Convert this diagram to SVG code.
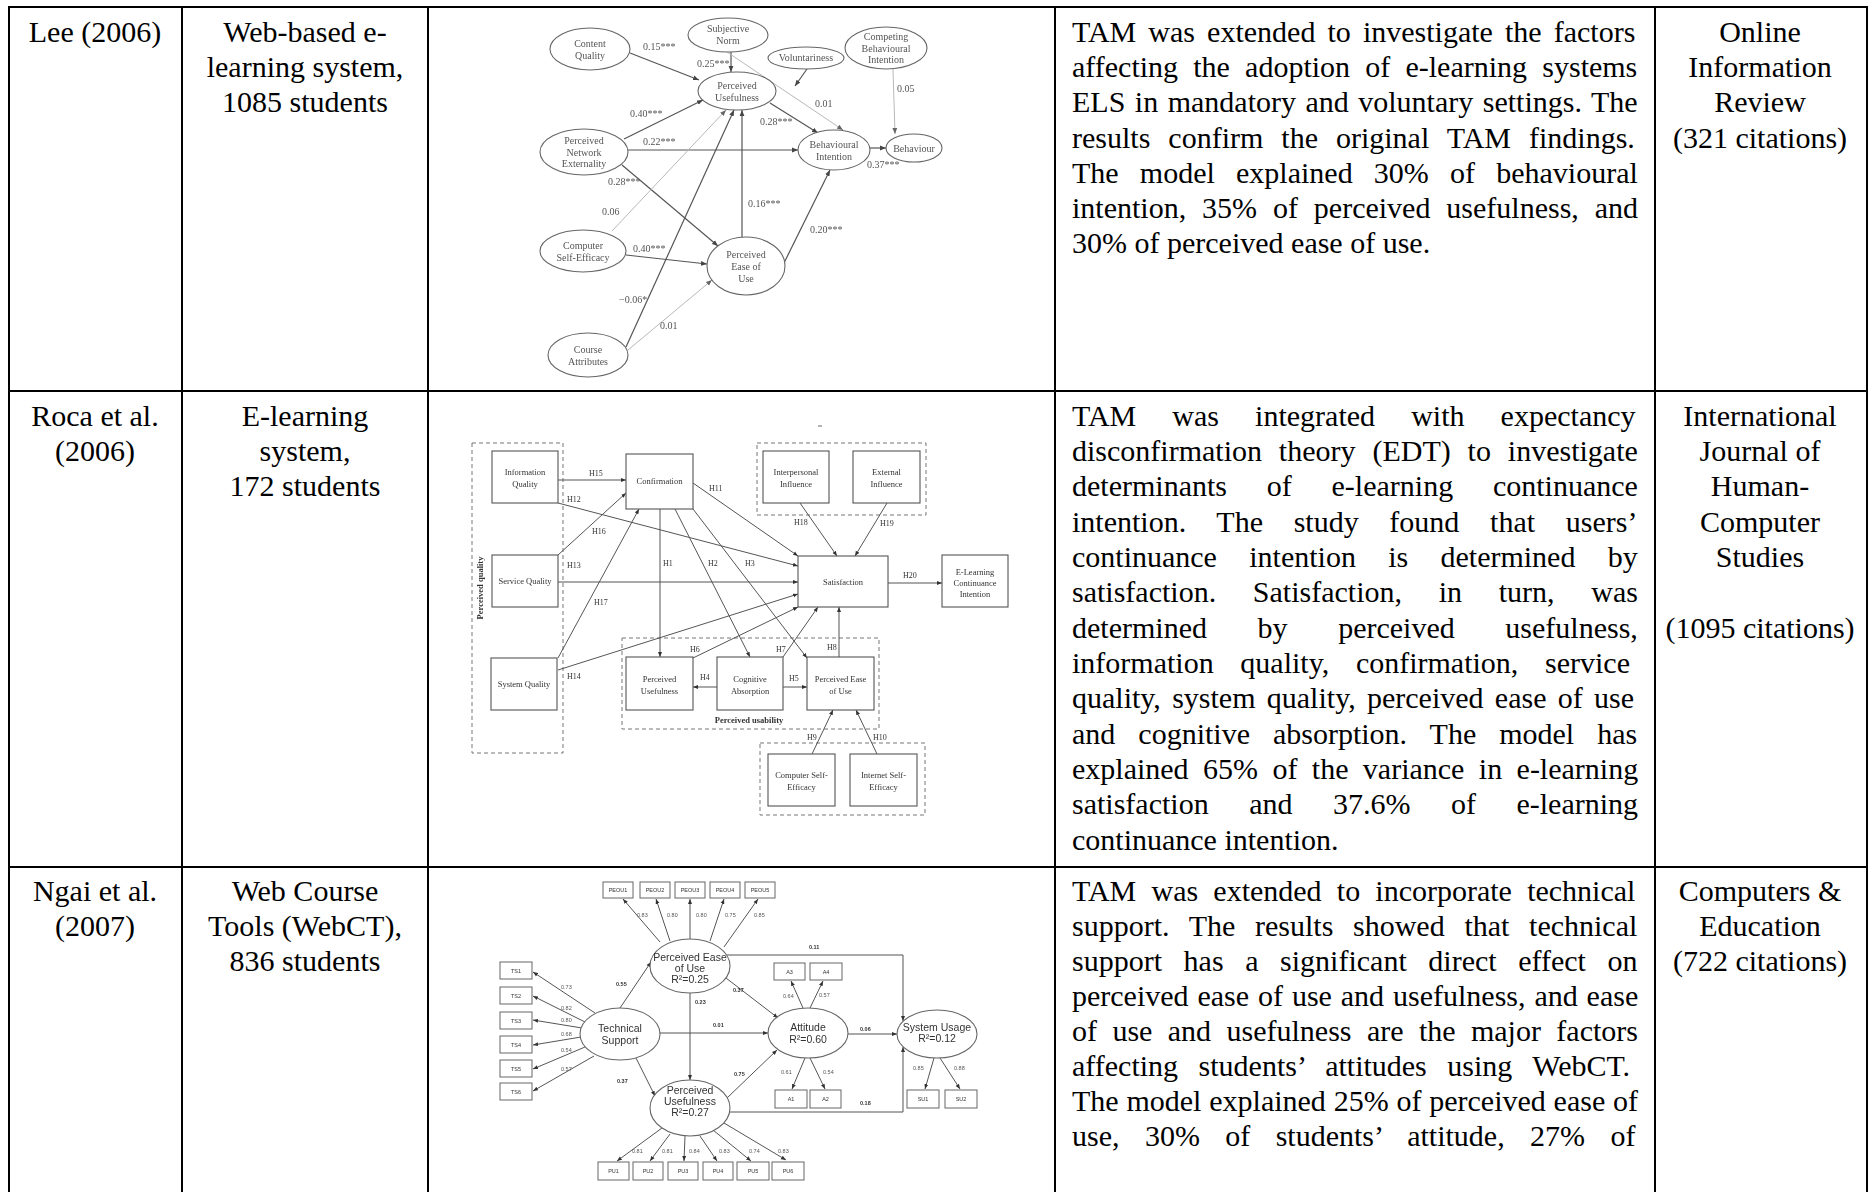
<svg xmlns="http://www.w3.org/2000/svg" width="1868" height="1192" viewBox="0 0 1868 1192">
<style>
  .cell { font-family: "Liberation Serif", "Times New Roman", serif; font-size: 30px; fill: #000; }
  .mid { text-anchor: middle; }
  .grid line { stroke: #000; stroke-width: 2; }
  .lee ellipse { fill: #fff; stroke: #666; stroke-width: 1.1; }
  .lee text { font-family: "Liberation Serif", "Times New Roman", serif; font-size: 10px; fill: #555; text-anchor: middle; }
  .lee .lbl { text-anchor: start; }
  .lee-edge { fill: none; stroke: #555; stroke-width: 1.2; marker-end: url(#ahLee); }
  .lee-edge.light { stroke: #b8b8b8; stroke-width: 1; marker-end: url(#ahLeeLight); }
  .roca rect { fill: #fff; stroke: #555; stroke-width: 1.1; }
  .roca .grp { fill: none; stroke: #777; stroke-width: 1; stroke-dasharray: 4 3; }
  .roca text { font-family: "Liberation Serif", "Times New Roman", serif; font-size: 8.5px; fill: #333; text-anchor: middle; }
  .roca .lbl { text-anchor: start; font-size: 8px; }
  .roca .bold { font-weight: bold; }
  .roca-edge { fill: none; stroke: #555; stroke-width: 1; marker-end: url(#ahRoca); }
  .ngai rect { fill: #fff; stroke: #666; stroke-width: 1; }
  .ngai ellipse { fill: #fff; stroke: #666; stroke-width: 1.1; }
  .ngai text { font-family: "Liberation Sans", Arial, sans-serif; fill: #333; text-anchor: middle; }
  .ngai .big { font-size: 10.5px; }
  .ngai .tiny { font-size: 5.5px; }
  .ngai .lbl { font-size: 5.5px; text-anchor: start; fill: #555; }
  .ngai .lbl.b { font-weight: bold; fill: #333; }
  .ngai-edge { fill: none; stroke: #555; stroke-width: 1; marker-end: url(#ahNgai); }
</style>
<defs>
  <marker id="ahLee" viewBox="0 0 10 10" refX="10" refY="5" markerWidth="6" markerHeight="6" markerUnits="userSpaceOnUse" orient="auto"><path d="M0,1 L10,5 L0,9 z" fill="#444"/></marker>
  <marker id="ahLeeLight" viewBox="0 0 10 10" refX="10" refY="5" markerWidth="6" markerHeight="6" markerUnits="userSpaceOnUse" orient="auto"><path d="M0,1 L10,5 L0,9 z" fill="#666"/></marker>
  <marker id="ahRoca" viewBox="0 0 10 10" refX="10" refY="5" markerWidth="5" markerHeight="5" markerUnits="userSpaceOnUse" orient="auto"><path d="M0,1 L10,5 L0,9 z" fill="#333"/></marker>
  <marker id="ahNgai" viewBox="0 0 10 10" refX="10" refY="5" markerWidth="5" markerHeight="5" markerUnits="userSpaceOnUse" orient="auto"><path d="M0,1 L10,5 L0,9 z" fill="#333"/></marker>
  <filter id="soft" x="-2%" y="-2%" width="104%" height="104%"><feGaussianBlur stdDeviation="0.45"/></filter>
</defs>
<rect width="1868" height="1192" fill="#fff"/>

<!-- table rules -->
<g class="grid">
  <line x1="8" y1="7" x2="1868" y2="7"/>
  <line x1="8" y1="391" x2="1868" y2="391"/>
  <line x1="8" y1="867" x2="1868" y2="867"/>
  <line x1="9" y1="6" x2="9" y2="1192"/>
  <line x1="182" y1="6" x2="182" y2="1192"/>
  <line x1="428" y1="6" x2="428" y2="1192"/>
  <line x1="1055" y1="6" x2="1055" y2="1192"/>
  <line x1="1655" y1="6" x2="1655" y2="1192"/>
  <line x1="1867" y1="6" x2="1867" y2="1192"/>
</g>

<!-- row 1: Lee (2006) -->
<g id="row-lee" class="cell">
  <text class="mid" x="95" y="42">Lee (2006)</text>
  <text class="mid" x="305" y="42">Web-based e-</text>
  <text class="mid" x="305" y="77">learning system,</text>
  <text class="mid" x="305" y="112">1085 students</text>
  <text x="1072" y="42" word-spacing="4.6">TAM was extended to investigate the factors</text>
  <text x="1072" y="77" word-spacing="7.7">affecting the adoption of e-learning systems</text>
  <text x="1072" y="112" word-spacing="2">ELS in mandatory and voluntary settings. The</text>
  <text x="1072" y="148" word-spacing="10.5">results confirm the original TAM findings.</text>
  <text x="1072" y="183" word-spacing="13.7">The model explained 30% of behavioural</text>
  <text x="1072" y="218" word-spacing="8.4">intention, 35% of perceived usefulness, and</text>
  <text x="1072" y="253">30% of perceived ease of use.</text>
  <text class="mid" x="1760" y="42">Online</text>
  <text class="mid" x="1760" y="77">Information</text>
  <text class="mid" x="1760" y="112">Review</text>
  <text class="mid" x="1760" y="148">(321 citations)</text>
</g>

<!-- row 2: Roca et al. (2006) -->
<g id="row-roca" class="cell">
  <text class="mid" x="95" y="426">Roca et al.</text>
  <text class="mid" x="95" y="461">(2006)</text>
  <text class="mid" x="305" y="426">E-learning</text>
  <text class="mid" x="305" y="461">system,</text>
  <text class="mid" x="305" y="496">172 students</text>
  <text x="1072" y="426" word-spacing="28.6">TAM was integrated with expectancy</text>
  <text x="1072" y="461" word-spacing="9.4">disconfirmation theory (EDT) to investigate</text>
  <text x="1072" y="496" word-spacing="32.3">determinants of e-learning continuance</text>
  <text x="1072" y="532" word-spacing="23.2">intention. The study found that users’</text>
  <text x="1072" y="567" word-spacing="24.8">continuance intention is determined by</text>
  <text x="1072" y="602" word-spacing="29.2">satisfaction. Satisfaction, in turn, was</text>
  <text x="1072" y="638" word-spacing="43.1">determined by perceived usefulness,</text>
  <text x="1072" y="673" word-spacing="19.2">information quality, confirmation, service</text>
  <text x="1072" y="708" word-spacing="3.8">quality, system quality, perceived ease of use</text>
  <text x="1072" y="744" word-spacing="15.5">and cognitive absorption. The model has</text>
  <text x="1072" y="779" word-spacing="6.9">explained 65% of the variance in e-learning</text>
  <text x="1072" y="814" word-spacing="33">satisfaction and 37.6% of e-learning</text>
  <text x="1072" y="850">continuance intention.</text>
  <text class="mid" x="1760" y="426">International</text>
  <text class="mid" x="1760" y="461">Journal of</text>
  <text class="mid" x="1760" y="496">Human-</text>
  <text class="mid" x="1760" y="532">Computer</text>
  <text class="mid" x="1760" y="567">Studies</text>
  <text class="mid" x="1760" y="638">(1095 citations)</text>
</g>

<!-- row 3: Ngai et al. (2007) -->
<g id="row-ngai" class="cell">
  <text class="mid" x="95" y="901">Ngai et al.</text>
  <text class="mid" x="95" y="936">(2007)</text>
  <text class="mid" x="305" y="901">Web Course</text>
  <text class="mid" x="305" y="936">Tools (WebCT),</text>
  <text class="mid" x="305" y="971">836 students</text>
  <text x="1072" y="901" word-spacing="7.7">TAM was extended to incorporate technical</text>
  <text x="1072" y="936" word-spacing="12.2">support. The results showed that technical</text>
  <text x="1072" y="971" word-spacing="14.1">support has a significant direct effect on</text>
  <text x="1072" y="1006" word-spacing="1.4">perceived ease of use and usefulness, and ease</text>
  <text x="1072" y="1041" word-spacing="7.9">of use and usefulness are the major factors</text>
  <text x="1072" y="1076" word-spacing="13">affecting students’ attitudes using WebCT.</text>
  <text x="1072" y="1111" word-spacing="0.3">The model explained 25% of perceived ease of</text>
  <text x="1072" y="1146" word-spacing="17.9">use, 30% of students’ attitude, 27% of</text>
  <text class="mid" x="1760" y="901">Computers &amp;</text>
  <text class="mid" x="1760" y="936">Education</text>
  <text class="mid" x="1760" y="971">(722 citations)</text>
</g>

<!-- Lee (2006) research model -->
<g id="lee-model" class="lee" filter="url(#soft)">
  <g id="lee-connectors">
    <path class="lee-edge" d="M630,53 L699,80"/>
    <path class="lee-edge" d="M731,52 L731,72"/>
    <path class="lee-edge light" d="M727,52 L843,130"/>
    <path class="lee-edge" d="M807,69 L795,86"/>
    <path class="lee-edge light" d="M893,69 L895,134"/>
    <path class="lee-edge" d="M770,103 L818,133"/>
    <path class="lee-edge" d="M624,139 L703,100"/>
    <path class="lee-edge" d="M628,150 L798,150"/>
    <path class="lee-edge" d="M622,165 L718,246"/>
    <path class="lee-edge light" d="M612,231 L726,110"/>
    <path class="lee-edge" d="M626,347 L734,110"/>
    <path class="lee-edge" d="M742,237 L742,110"/>
    <path class="lee-edge" d="M784,263 L830,170"/>
    <path class="lee-edge" d="M626,255 L707,264"/>
    <path class="lee-edge light" d="M628,350 L712,280"/>
    <path class="lee-edge" d="M870,148 L886,148"/>
    <text class="lbl" x="643" y="50">0.15***</text>
    <text class="lbl" x="697" y="67">0.25***</text>
    <text class="lbl" x="815" y="107">0.01</text>
    <text class="lbl" x="897" y="92">0.05</text>
    <text class="lbl" x="630" y="117">0.40***</text>
    <text class="lbl" x="760" y="125">0.28***</text>
    <text class="lbl" x="643" y="145">0.22***</text>
    <text class="lbl" x="867" y="168">0.37***</text>
    <text class="lbl" x="608" y="185">0.28***</text>
    <text class="lbl" x="602" y="215">0.06</text>
    <text class="lbl" x="748" y="207">0.16***</text>
    <text class="lbl" x="810" y="233">0.20***</text>
    <text class="lbl" x="633" y="252">0.40***</text>
    <text class="lbl" x="619" y="303">−0.06*</text>
    <text class="lbl" x="660" y="329">0.01</text>
  </g>
  <g id="lee-content-quality"><ellipse cx="590" cy="49" rx="40" ry="21"/><text x="590" y="47">Content</text><text x="590" y="59">Quality</text></g>
  <g id="lee-subjective-norm"><ellipse cx="728" cy="35" rx="40" ry="17"/><text x="728" y="32">Subjective</text><text x="728" y="44">Norm</text></g>
  <g id="lee-voluntariness"><ellipse cx="806" cy="58" rx="38" ry="11"/><text x="806" y="61">Voluntariness</text></g>
  <g id="lee-competing-intention"><ellipse cx="886" cy="48" rx="41" ry="21"/><text x="886" y="40">Competing</text><text x="886" y="51.5">Behavioural</text><text x="886" y="63">Intention</text></g>
  <g id="lee-usefulness"><ellipse cx="737" cy="91" rx="39" ry="19"/><text x="737" y="89">Perceived</text><text x="737" y="101">Usefulness</text></g>
  <g id="lee-network-externality"><ellipse cx="584" cy="152" rx="44" ry="23"/><text x="584" y="144">Perceived</text><text x="584" y="155.5">Network</text><text x="584" y="167">Externality</text></g>
  <g id="lee-behavioural-intention"><ellipse cx="834" cy="150" rx="36" ry="20"/><text x="834" y="148">Behavioural</text><text x="834" y="160">Intention</text></g>
  <g id="lee-behaviour"><ellipse cx="914" cy="148" rx="28" ry="14"/><text x="914" y="151.5">Behaviour</text></g>
  <g id="lee-computer-self-efficacy"><ellipse cx="583" cy="251" rx="43" ry="21"/><text x="583" y="248.5">Computer</text><text x="583" y="260.5">Self-Efficacy</text></g>
  <g id="lee-ease-of-use"><ellipse cx="746" cy="266" rx="39" ry="29"/><text x="746" y="257.5">Perceived</text><text x="746" y="269.5">Ease of</text><text x="746" y="281.5">Use</text></g>
  <g id="lee-course-attributes"><ellipse cx="588" cy="355" rx="40" ry="22"/><text x="588" y="352.5">Course</text><text x="588" y="364.5">Attributes</text></g>
</g>

<!-- Roca et al. (2006) research model -->
<g id="roca-model" class="roca" filter="url(#soft)">
  <g id="roca-groups">
    <rect class="grp" x="472" y="443" width="91" height="310"/>
    <text class="bold" transform="translate(483,588) rotate(-90)">Perceived   quality</text>
    <rect class="grp" x="757" y="443" width="169" height="72"/>
    <rect class="grp" x="622" y="638" width="257" height="91"/>
    <text class="bold" x="749" y="723">Perceived usability</text>
    <rect class="grp" x="760" y="743" width="165" height="72"/>
    <line x1="818" y1="426" x2="822" y2="426" stroke="#666" stroke-width="1"/>
  </g>
  <g id="roca-connectors">
    <path class="roca-edge" d="M558,480 L626,480"/>
    <path class="roca-edge" d="M558,503 L798,566"/>
    <path class="roca-edge" d="M558,555 L626,493"/>
    <path class="roca-edge" d="M558,582 L798,582"/>
    <path class="roca-edge" d="M558,658 L639,509"/>
    <path class="roca-edge" d="M558,670 L798,594"/>
    <path class="roca-edge" d="M693,483 L798,556"/>
    <path class="roca-edge" d="M660,509 L660,657"/>
    <path class="roca-edge" d="M675,509 L750,657"/>
    <path class="roca-edge" d="M693,509 L807,658"/>
    <path class="roca-edge" d="M693,658 L798,607"/>
    <path class="roca-edge" d="M783,657 L818,607"/>
    <path class="roca-edge" d="M839,657 L839,607"/>
    <path class="roca-edge" d="M717,687 L693,687"/>
    <path class="roca-edge" d="M783,687 L807,687"/>
    <path class="roca-edge" d="M812,754 L833,710"/>
    <path class="roca-edge" d="M877,754 L856,710"/>
    <path class="roca-edge" d="M800,503 L837,556"/>
    <path class="roca-edge" d="M887,503 L855,556"/>
    <path class="roca-edge" d="M888,583 L942,583"/>
    <text class="lbl" x="589" y="476">H15</text>
    <text class="lbl" x="567" y="502">H12</text>
    <text class="lbl" x="592" y="534">H16</text>
    <text class="lbl" x="567" y="568">H13</text>
    <text class="lbl" x="594" y="605">H17</text>
    <text class="lbl" x="567" y="679">H14</text>
    <text class="lbl" x="709" y="491">H11</text>
    <text class="lbl" x="663" y="566">H1</text>
    <text class="lbl" x="708" y="566">H2</text>
    <text class="lbl" x="745" y="566">H3</text>
    <text class="lbl" x="794" y="525">H18</text>
    <text class="lbl" x="880" y="526">H19</text>
    <text class="lbl" x="903" y="578">H20</text>
    <text class="lbl" x="690" y="652">H6</text>
    <text class="lbl" x="776" y="652">H7</text>
    <text class="lbl" x="827" y="650">H8</text>
    <text class="lbl" x="700" y="680">H4</text>
    <text class="lbl" x="789" y="681">H5</text>
    <text class="lbl" x="807" y="740">H9</text>
    <text class="lbl" x="873" y="740">H10</text>
  </g>
  <g id="roca-information-quality"><rect x="492" y="451" width="66" height="52"/><text x="525" y="475">Information</text><text x="525" y="487">Quality</text></g>
  <g id="roca-service-quality"><rect x="492" y="555" width="66" height="52"/><text x="525" y="584">Service Quality</text></g>
  <g id="roca-system-quality"><rect x="491" y="658" width="66" height="52"/><text x="524" y="687">System Quality</text></g>
  <g id="roca-confirmation"><rect x="626" y="454" width="67" height="55"/><text x="659.5" y="484">Confirmation</text></g>
  <g id="roca-interpersonal-influence"><rect x="763" y="451" width="66" height="52"/><text x="796" y="475">Interpersonal</text><text x="796" y="487">Influence</text></g>
  <g id="roca-external-influence"><rect x="853" y="451" width="67" height="52"/><text x="886.5" y="475">External</text><text x="886.5" y="487">Influence</text></g>
  <g id="roca-satisfaction"><rect x="798" y="556" width="90" height="51"/><text x="843" y="585">Satisfaction</text></g>
  <g id="roca-continuance-intention"><rect x="942" y="555" width="66" height="52"/><text x="975" y="575">E-Learning</text><text x="975" y="586">Continuance</text><text x="975" y="597">Intention</text></g>
  <g id="roca-perceived-usefulness"><rect x="626" y="657" width="67" height="53"/><text x="659.5" y="682">Perceived</text><text x="659.5" y="694">Usefulness</text></g>
  <g id="roca-cognitive-absorption"><rect x="717" y="657" width="66" height="53"/><text x="750" y="682">Cognitive</text><text x="750" y="694">Absorption</text></g>
  <g id="roca-perceived-ease"><rect x="807" y="657" width="67" height="53"/><text x="840.5" y="682">Perceived Ease</text><text x="840.5" y="694">of Use</text></g>
  <g id="roca-computer-self-efficacy"><rect x="768" y="754" width="67" height="52"/><text x="801.5" y="778">Computer Self-</text><text x="801.5" y="790">Efficacy</text></g>
  <g id="roca-internet-self-efficacy"><rect x="850" y="754" width="67" height="52"/><text x="883.5" y="778">Internet Self-</text><text x="883.5" y="790">Efficacy</text></g>
</g>

<!-- Ngai et al. (2007) structural model -->
<g id="ngai-model" class="ngai" filter="url(#soft)">
  <g id="ngai-connectors">
    <path class="ngai-edge" d="M660,942 L623,899"/>
    <path class="ngai-edge" d="M670,941 L656,899"/>
    <path class="ngai-edge" d="M690,939 L690,899"/>
    <path class="ngai-edge" d="M710,941 L724,899"/>
    <path class="ngai-edge" d="M724,947 L758,899"/>
    <path class="ngai-edge" d="M595,1013 L533,972"/>
    <path class="ngai-edge" d="M585,1022 L533,996"/>
    <path class="ngai-edge" d="M582,1028 L533,1020"/>
    <path class="ngai-edge" d="M581,1037 L533,1045"/>
    <path class="ngai-edge" d="M585,1047 L533,1069"/>
    <path class="ngai-edge" d="M594,1056 L533,1091"/>
    <path class="ngai-edge" d="M620,1008 L651,962"/>
    <path class="ngai-edge" d="M690,993 L690,1080"/>
    <path class="ngai-edge" d="M726,978 L778,1018"/>
    <path class="ngai-edge" d="M660,1033 L768,1033"/>
    <path class="ngai-edge" d="M636,1058 L655,1096"/>
    <path class="ngai-edge" d="M727,1098 L777,1050"/>
    <path class="ngai-edge" d="M662,1128 L617,1161"/>
    <path class="ngai-edge" d="M670,1134 L650,1161"/>
    <path class="ngai-edge" d="M685,1136 L684,1161"/>
    <path class="ngai-edge" d="M700,1136 L717,1161"/>
    <path class="ngai-edge" d="M713,1130 L751,1161"/>
    <path class="ngai-edge" d="M724,1123 L786,1160"/>
    <path class="ngai-edge" d="M803,1008 L791,981"/>
    <path class="ngai-edge" d="M810,1008 L823,981"/>
    <path class="ngai-edge" d="M805,1058 L792,1089"/>
    <path class="ngai-edge" d="M810,1058 L825,1089"/>
    <path class="ngai-edge" d="M848,1034 L897,1034"/>
    <path class="ngai-edge" d="M934,1058 L925,1089"/>
    <path class="ngai-edge" d="M940,1058 L960,1089"/>
    <path class="ngai-edge" d="M727,955 L903,955 L903,1021"/>
    <path class="ngai-edge" d="M729,1112 L903,1112 L903,1047"/>
    <text class="lbl" x="637" y="917">0.83</text>
    <text class="lbl" x="667" y="917">0.80</text>
    <text class="lbl" x="696" y="917">0.80</text>
    <text class="lbl" x="725" y="917">0.75</text>
    <text class="lbl" x="754" y="917">0.85</text>
    <text class="lbl" x="561" y="989">0.73</text>
    <text class="lbl" x="561" y="1010">0.82</text>
    <text class="lbl" x="561" y="1022">0.80</text>
    <text class="lbl" x="561" y="1036">0.68</text>
    <text class="lbl" x="561" y="1052">0.54</text>
    <text class="lbl" x="561" y="1071">0.57</text>
    <text class="lbl b" x="616" y="986">0.55</text>
    <text class="lbl b" x="695" y="1004">0.23</text>
    <text class="lbl b" x="733" y="992">0.37</text>
    <text class="lbl b" x="713" y="1027">0.01</text>
    <text class="lbl b" x="617" y="1083">0.37</text>
    <text class="lbl b" x="734" y="1076">0.75</text>
    <text class="lbl" x="632" y="1153">0.81</text>
    <text class="lbl" x="662" y="1153">0.81</text>
    <text class="lbl" x="689" y="1153">0.84</text>
    <text class="lbl" x="719" y="1153">0.83</text>
    <text class="lbl" x="749" y="1153">0.74</text>
    <text class="lbl" x="778" y="1153">0.83</text>
    <text class="lbl" x="783" y="998">0.64</text>
    <text class="lbl" x="819" y="997">0.57</text>
    <text class="lbl" x="781" y="1074">0.61</text>
    <text class="lbl" x="823" y="1074">0.54</text>
    <text class="lbl b" x="860" y="1031">0.06</text>
    <text class="lbl b" x="809" y="949">0.11</text>
    <text class="lbl b" x="860" y="1105">0.18</text>
    <text class="lbl" x="913" y="1070">0.85</text>
    <text class="lbl" x="954" y="1070">0.88</text>
  </g>
  <g id="ngai-peou1"><rect x="603" y="882" width="30" height="16"/><text class="tiny" x="618" y="892">PEOU1</text></g>
  <g id="ngai-peou2"><rect x="640" y="882" width="30" height="16"/><text class="tiny" x="655" y="892">PEOU2</text></g>
  <g id="ngai-peou3"><rect x="675" y="882" width="30" height="16"/><text class="tiny" x="690" y="892">PEOU3</text></g>
  <g id="ngai-peou4"><rect x="710" y="882" width="30" height="16"/><text class="tiny" x="725" y="892">PEOU4</text></g>
  <g id="ngai-peou5"><rect x="745" y="882" width="30" height="16"/><text class="tiny" x="760" y="892">PEOU5</text></g>
  <g id="ngai-ts1"><rect x="500" y="962" width="32" height="17"/><text class="tiny" x="516" y="972.5">TS1</text></g>
  <g id="ngai-ts2"><rect x="500" y="987" width="32" height="17"/><text class="tiny" x="516" y="997.5">TS2</text></g>
  <g id="ngai-ts3"><rect x="500" y="1012" width="32" height="17"/><text class="tiny" x="516" y="1022.5">TS3</text></g>
  <g id="ngai-ts4"><rect x="500" y="1036" width="32" height="17"/><text class="tiny" x="516" y="1046.5">TS4</text></g>
  <g id="ngai-ts5"><rect x="500" y="1060" width="32" height="17"/><text class="tiny" x="516" y="1070.5">TS5</text></g>
  <g id="ngai-ts6"><rect x="500" y="1083" width="32" height="17"/><text class="tiny" x="516" y="1093.5">TS6</text></g>
  <g id="ngai-pu1"><rect x="598" y="1162" width="31" height="18"/><text class="tiny" x="613.5" y="1173">PU1</text></g>
  <g id="ngai-pu2"><rect x="633" y="1162" width="30" height="18"/><text class="tiny" x="648" y="1173">PU2</text></g>
  <g id="ngai-pu3"><rect x="668" y="1162" width="30" height="18"/><text class="tiny" x="683" y="1173">PU3</text></g>
  <g id="ngai-pu4"><rect x="703" y="1162" width="30" height="18"/><text class="tiny" x="718" y="1173">PU4</text></g>
  <g id="ngai-pu5"><rect x="737" y="1162" width="32" height="18"/><text class="tiny" x="753" y="1173">PU5</text></g>
  <g id="ngai-pu6"><rect x="772" y="1162" width="32" height="18"/><text class="tiny" x="788" y="1173">PU6</text></g>
  <g id="ngai-a3"><rect x="774" y="963" width="31" height="17"/><text class="tiny" x="789.5" y="973.5">A3</text></g>
  <g id="ngai-a4"><rect x="810" y="963" width="32" height="17"/><text class="tiny" x="826" y="973.5">A4</text></g>
  <g id="ngai-a1"><rect x="775" y="1090" width="32" height="18"/><text class="tiny" x="791" y="1101">A1</text></g>
  <g id="ngai-a2"><rect x="810" y="1090" width="31" height="18"/><text class="tiny" x="825.5" y="1101">A2</text></g>
  <g id="ngai-su1"><rect x="907" y="1090" width="32" height="18"/><text class="tiny" x="923" y="1101">SU1</text></g>
  <g id="ngai-su2"><rect x="945" y="1090" width="32" height="18"/><text class="tiny" x="961" y="1101">SU2</text></g>
  <g id="ngai-technical-support"><ellipse cx="620" cy="1034" rx="40" ry="26"/><text class="big" x="620" y="1032">Technical</text><text class="big" x="620" y="1044">Support</text></g>
  <g id="ngai-ease-of-use"><ellipse cx="690" cy="966" rx="40" ry="27"/><text class="big" x="690" y="961">Perceived Ease</text><text class="big" x="690" y="972">of Use</text><text class="big" x="690" y="983">R²=0.25</text></g>
  <g id="ngai-usefulness"><ellipse cx="690" cy="1108" rx="40" ry="28"/><text class="big" x="690" y="1094">Perceived</text><text class="big" x="690" y="1105">Usefulness</text><text class="big" x="690" y="1116">R²=0.27</text></g>
  <g id="ngai-attitude"><ellipse cx="808" cy="1033" rx="40" ry="25"/><text class="big" x="808" y="1031">Attitude</text><text class="big" x="808" y="1043">R²=0.60</text></g>
  <g id="ngai-system-usage"><ellipse cx="937" cy="1034" rx="40" ry="24"/><text class="big" x="937" y="1031">System Usage</text><text class="big" x="937" y="1042">R²=0.12</text></g>
</g>
</svg>
